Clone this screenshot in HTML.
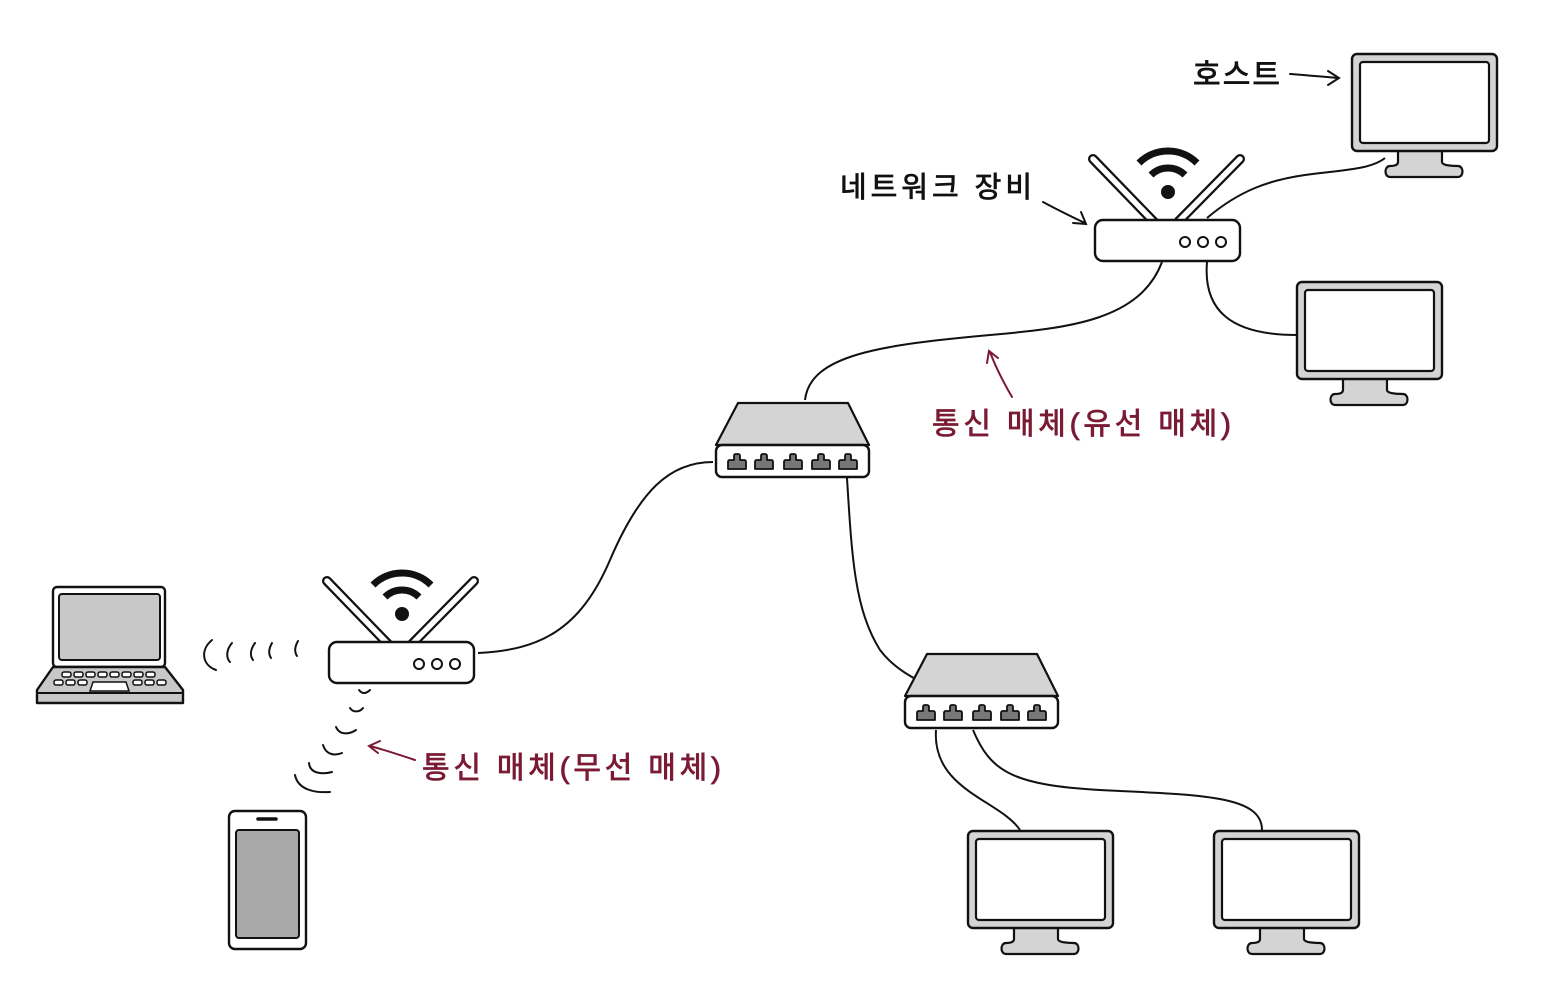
<!DOCTYPE html>
<html><head><meta charset="utf-8"><style>
html,body{margin:0;padding:0;background:#fff;}
svg{display:block;}
text{font-family:"Liberation Sans","Noto Sans CJK KR","NanumGothic",sans-serif;}
</style></head><body>
<svg width="1566" height="1008" viewBox="0 0 1566 1008" xmlns="http://www.w3.org/2000/svg">
<defs>
<g id="mon">
  <path d="M46,95 L46,108 C46,112 40,112 38,112 C32,112 32,123 38,123 L106,123 C112,123 112,112 106,112 C104,112 90,112 90,108 L90,95 Z" fill="#d4d4d4" stroke="#111" stroke-width="2.2" stroke-linejoin="round"/>
  <rect x="0" y="0" width="145" height="97" rx="5" fill="#d4d4d4" stroke="#111" stroke-width="2.4"/>
  <rect x="8" y="8" width="129" height="81" rx="3" fill="#fff" stroke="#111" stroke-width="2.2"/>
</g>
<g id="router">
  <line x1="-2" y1="-61" x2="59" y2="2" stroke="#111" stroke-width="10" stroke-linecap="round"/>
  <line x1="-2" y1="-61" x2="59" y2="2" stroke="#fff" stroke-width="5.5" stroke-linecap="round"/>
  <line x1="145" y1="-61" x2="83" y2="2" stroke="#111" stroke-width="10" stroke-linecap="round"/>
  <line x1="145" y1="-61" x2="83" y2="2" stroke="#fff" stroke-width="5.5" stroke-linecap="round"/>
  <circle cx="73" cy="-28" r="7" fill="#111"/>
  <path d="M56,-45 A24,24 0 0 1 90,-45" fill="none" stroke="#111" stroke-width="7"/>
  <path d="M44,-57 A41,41 0 0 1 102,-57" fill="none" stroke="#111" stroke-width="7"/>
  <rect x="0" y="0" width="145" height="41" rx="8" fill="#fff" stroke="#111" stroke-width="2.4"/>
  <circle cx="90" cy="22" r="5" fill="#fff" stroke="#111" stroke-width="2"/>
  <circle cx="108" cy="22" r="5" fill="#fff" stroke="#111" stroke-width="2"/>
  <circle cx="126" cy="22" r="5" fill="#fff" stroke="#111" stroke-width="2"/>
</g>
<g id="port">
  <path d="M-9,0 L-9,-7 Q-9,-9 -7,-9 L-3,-9 L-3,-13 Q-3,-15 -1,-15 L1,-15 Q3,-15 3,-13 L3,-9 L7,-9 Q9,-9 9,-7 L9,0 Z" fill="#777" stroke="#111" stroke-width="1.8" stroke-linejoin="round"/>
</g>
<g id="switch">
  <path d="M22,0 L132,0 L153,42 L0,42 Z" fill="#d4d4d4" stroke="#111" stroke-width="2.2" stroke-linejoin="round"/>
  <rect x="0" y="42" width="153" height="32" rx="6" fill="#fff" stroke="#111" stroke-width="2.4"/>
  <use href="#port" x="21" y="66"/><use href="#port" x="48" y="66"/><use href="#port" x="77" y="66"/><use href="#port" x="105" y="66"/><use href="#port" x="132" y="66"/>
</g>
</defs>

<g fill="none" stroke="#111" stroke-width="2">
  <path d="M1207,218 C1240,190 1270,180 1305,175 C1340,170 1370,170 1385,158"/>
  <path d="M1207,262 C1203,310 1230,335 1297,335"/>
  <path d="M1162,262 C1140,320 1070,328 990,335 C880,345 810,355 805,400"/>
  <path d="M713,462 C670,462 640,490 610,560 C580,630 540,650 478,653"/>
  <path d="M847,478 C852,560 855,610 880,650 C895,670 918,680 918,680"/>
  <path d="M936,730 C932,790 1000,800 1020,830"/>
  <path d="M973,730 C990,770 1010,785 1100,790 C1200,795 1262,795 1262,830"/>
</g>

<use href="#mon" x="1352" y="54"/>
<use href="#mon" x="1297" y="282"/>
<use href="#mon" x="968" y="831"/>
<use href="#mon" x="1214" y="831"/>
<use href="#router" x="1095" y="220"/>
<use href="#router" x="329" y="642"/>
<use href="#switch" x="716" y="403"/>
<use href="#switch" x="905" y="654"/>

<!-- laptop -->
<rect x="53" y="587" width="112" height="80" rx="4" fill="#fff" stroke="#111" stroke-width="2.4"/>
<rect x="59" y="594" width="101" height="66" rx="3" fill="#c8c8c8" stroke="#111" stroke-width="2"/>
<path d="M53,667 L165,667 L183,690 L183,703 L37,703 L37,690 Z" fill="#c8c8c8" stroke="#111" stroke-width="2.4" stroke-linejoin="round"/>
<line x1="37" y1="693" x2="183" y2="693" stroke="#111" stroke-width="2"/>
<g fill="#fff" stroke="#111" stroke-width="1.5">
<rect x="62" y="672" width="9" height="5" rx="2"/><rect x="74" y="672" width="9" height="5" rx="2"/><rect x="86" y="672" width="9" height="5" rx="2"/><rect x="98" y="672" width="9" height="5" rx="2"/><rect x="110" y="672" width="9" height="5" rx="2"/><rect x="122" y="672" width="9" height="5" rx="2"/><rect x="134" y="672" width="9" height="5" rx="2"/><rect x="146" y="672" width="9" height="5" rx="2"/>
<rect x="54" y="680" width="9" height="5" rx="2"/><rect x="66" y="680" width="9" height="5" rx="2"/><rect x="78" y="680" width="9" height="5" rx="2"/><rect x="133" y="680" width="9" height="5" rx="2"/><rect x="145" y="680" width="9" height="5" rx="2"/><rect x="157" y="680" width="9" height="5" rx="2"/>
<path d="M93,682 L126,682 L129,691 L90,691 Z"/>
</g>

<!-- phone -->
<rect x="229" y="811" width="77" height="138" rx="6" fill="#fff" stroke="#111" stroke-width="2.4"/>
<rect x="236" y="830" width="63" height="108" rx="3" fill="#a8a8a8" stroke="#111" stroke-width="2"/>
<line x1="258" y1="819" x2="276" y2="819" stroke="#111" stroke-width="3.5" stroke-linecap="round"/>

<!-- wireless arcs -->
<g fill="none" stroke="#111" stroke-width="2" stroke-linecap="round">
  <path d="M212,640 C200,650 202,665 216,670"/>
  <path d="M232,643 C226,650 226,658 230,662"/>
  <path d="M255,643 C250,650 250,656 253,660"/>
  <path d="M272,643 C268,650 269,655 271,658"/>
  <path d="M298,641 C294,648 295,653 297,656"/>
  <path d="M359,690 C362,694 366,694 370,690"/>
  <path d="M350,708 C353,713 360,712 363,708"/>
  <path d="M336,727 C340,736 350,734 356,730"/>
  <path d="M323,745 C326,755 335,756 342,753"/>
  <path d="M309,763 C310,775 325,774 332,772"/>
  <path d="M295,775 C298,790 315,793 330,792"/>
</g>

<!-- label arrows -->
<g fill="none" stroke="#111" stroke-width="2" stroke-linecap="round">
  <path d="M1290,74 C1305,75 1325,77 1338,78 M1328,71 L1339,78 L1328,85"/>
  <path d="M1043,202 C1058,210 1072,217 1085,223 M1073,223 L1086,224 L1081,212"/>
</g>
<g fill="none" stroke="#7a1a34" stroke-width="2" stroke-linecap="round">
  <path d="M1012,397 C1005,385 996,368 990,352 M987,363 L989,351 L998,358"/>
  <path d="M415,760 C400,755 385,750 370,746 M380,741 L369,746 L378,753"/>
</g>

<g stroke-width="0.8">
<text x="1193" y="85" font-size="30" fill="#111" stroke="#111" textLength="87">호스트</text>
<text x="840" y="197" font-size="29" fill="#111" stroke="#111" textLength="192">네트워크 장비</text>
<text x="932" y="434" font-size="30" fill="#7a1a34" stroke="#7a1a34" textLength="299">통신 매체(유선 매체)</text>
<text x="422" y="778" font-size="30" fill="#7a1a34" stroke="#7a1a34" textLength="299">통신 매체(무선 매체)</text>
</g>
</svg>
</body></html>
